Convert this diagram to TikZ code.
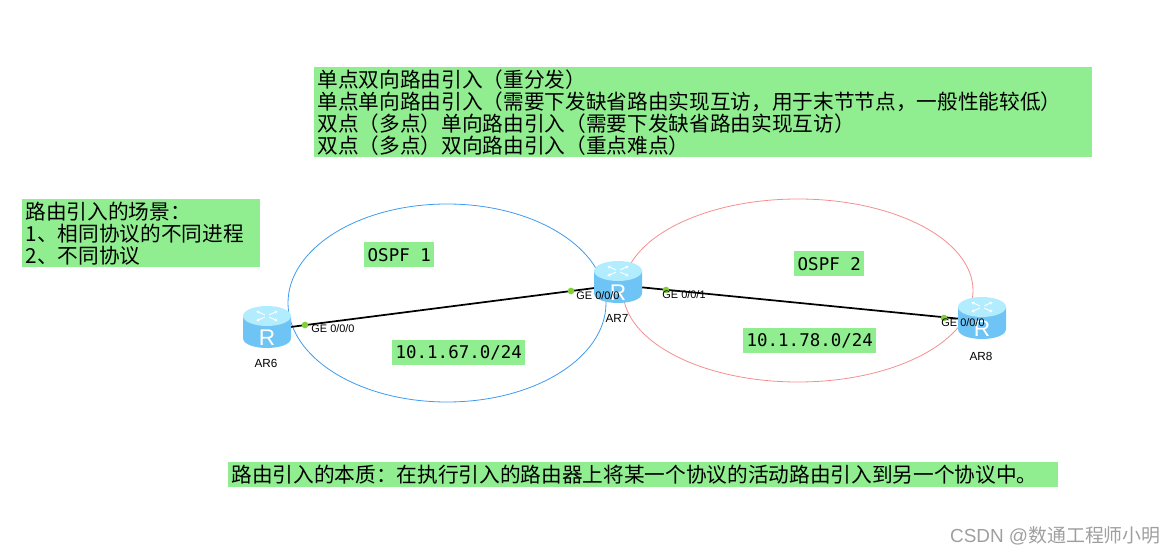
\documentclass[tikz,border=0pt]{standalone}
\usepackage{fontspec}
\setmainfont{Liberation Sans}
\newfontfamily\cjkfont[RawFeature=-chws;-palt;-kern]{Noto Sans CJK SC}
\newfontfamily\codefont{DejaVu Sans Mono}
\usetikzlibrary{positioning,arrows.meta,calc}
\definecolor{notegreen}{HTML}{90EE90}
\definecolor{ospfblue}{HTML}{3D9BF0}
\definecolor{ospfred}{HTML}{F58E8E}
\definecolor{portgreen}{HTML}{7FCF35}
\definecolor{routerside}{HTML}{6FC4F6}
\definecolor{routermid}{HTML}{A6E4FC}
\definecolor{routertop}{HTML}{B2ECFF}

\begin{document}
\begin{tikzpicture}[
    x=0.75pt, y=-0.75pt, >={Stealth[length=2.4pt,width=2.8pt]},
    note/.style={fill=notegreen, anchor=north west, inner xsep=2.5pt, inner ysep=0pt, align=left,
      font=\cjkfont\fontsize{15.5}{16.5}\selectfont},
    code/.style={fill=notegreen, anchor=north west, inner sep=0pt, align=center,
      font=\codefont\fontsize{13.1}{16}\selectfont},
    port/.style={circle, fill=portgreen, inner sep=0pt, minimum size=5pt},
    portlabel/.style={inner sep=0pt, font=\fontsize{8.2}{10}\selectfont},
    routerlabel/.style={inner sep=0pt, font=\fontsize{8.8}{10}\selectfont},
    link/.style={draw=black, line width=1.3pt},
    router/.pic={
      \path[left color=routerside, middle color=routermid, right color=routerside]
        (-24,-14) -- (-24,8) .. controls (-24,21.3) and (24,21.3) .. (24,8) -- (24,-14) -- cycle;
      \fill[routertop] (0,-14) ellipse[x radius=24, y radius=10];
      \foreach \ang in {45,135,225,315} {
        \draw[white, line width=0.7pt, ->] ({3*cos(\ang)},{-14+1.5*sin(\ang)}) -- ({15*cos(\ang)},{-14+7*sin(\ang)});
      }
      \node[text=white, inner sep=0pt, font=\fontsize{17}{17}\selectfont] (-glyph) at (0,8) {R};
    }]
  \path[use as bounding box] (0,0) rectangle (1176,555);
  \draw[ospfblue, line width=0.6pt] (447,303) ellipse[x radius=159, y radius=99];
  \draw[ospfred, line width=0.6pt] (798,290.5) ellipse[x radius=175, y radius=91.5];

  \coordinate (ar6) at (267,330);
  \coordinate (ar7) at (618,285);
  \coordinate (ar8) at (982,321);
  \draw[link] (ar6) -- (ar7);
  \draw[link] (ar7) -- (ar8);
  \pic (r6) at (ar6) {router};
  \pic (r7) at (ar7) {router};
  \pic (r8) at (ar8) {router};

  \node[routerlabel] (ar6label) at (266,363) {AR6};
  \node[routerlabel] (ar7label) at (617,318) {AR7};
  \node[routerlabel] (ar8label) at (981,356) {AR8};

  \node[port] (p6) at (305,325) {};
  \node[port] (p7a) at (571,291) {};
  \node[port] (p7b) at (666,290) {};
  \node[port] (p8) at (944,318) {};
  \node[portlabel] (p6label) at (333,329) {GE 0/0/0};
  \node[portlabel] (p7alabel) at (598,296) {GE 0/0/0};
  \node[portlabel] (p7blabel) at (684,295) {GE 0/0/1};
  \node[portlabel] (p8label) at (963,323) {GE 0/0/0};

  \node[note, text width=578.5pt, minimum height=67.5pt] (kinds) at (314,67) {单点双向路由引入（重分发）\\单点单向路由引入（需要下发缺省路由实现互访，用于末节节点，一般性能较低）\\双点（多点）单向路由引入（需要下发缺省路由实现互访）\\双点（多点）双向路由引入（重点难点）};
  \node[note, text width=173.5pt, minimum height=51pt] (scenes) at (22,199) {路由引入的场景：\\1、相同协议的不同进程\\2、不同协议};
  \node[note, text width=617.5pt, minimum height=18.75pt] (essence) at (228,462) {路由引入的本质：在执行引入的路由器上将某一个协议的活动路由引入到另一个协议中。};

  \node[code, minimum width=52.5pt, minimum height=18.75pt] (ospf1) at (364,242) {OSPF 1};
  \node[code, minimum width=52.5pt, minimum height=18.75pt] (ospf2) at (794,251) {OSPF 2};
  \node[code, minimum width=99.75pt, minimum height=18.75pt] (net67) at (392,340) {10.1.67.0/24};
  \node[code, minimum width=99.75pt, minimum height=18.75pt] (net78) at (743,328) {10.1.78.0/24};

  \node[text=gray!75, anchor=east, inner sep=0pt, font=\fontsize{14.2}{16}\selectfont] (mark) at (1161,536) {CSDN @{\cjkfont 数通工程师小明}};
\end{tikzpicture}
\end{document}
